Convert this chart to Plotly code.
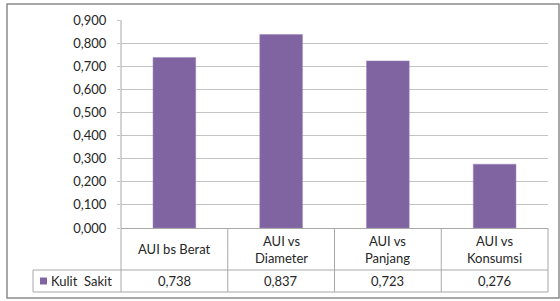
import plotly.graph_objects as go

categories = ["AUI bs Berat", "AUI vs<br>Diameter", "AUI vs<br>Panjang", "AUI vs<br>Konsumsi"]
values = [0.738, 0.837, 0.723, 0.276]
series_name = "Kulit  Sakit"
tick_vals = [0.0, 0.1, 0.2, 0.3, 0.4, 0.5, 0.6, 0.7, 0.8, 0.9]

W, H = 560, 301
L, R, T, B = 121, 548, 20, 228  # plot area in px

def px(x):
    return (x - L) / (R - L)

def py(y):
    return (B - y) / (B - T)

BAR = "#8064A2"
GRID = "#C4C4C4"
TLINE = "#A8A8A8"
TXT = "#262626"
FONT = "Lato"
FS = 13

n = len(categories)
fig = go.Figure()
fig.add_trace(go.Bar(
    x=list(range(n)), y=values, width=0.4,
    marker=dict(color=BAR, line=dict(color="#9A84B8", width=0.5)),
    name=series_name, showlegend=False, hoverinfo="skip",
))

shapes = []
# outer chart border
shapes.append(dict(type="rect", xref="paper", yref="paper",
                   x0=px(7), x1=px(559), y0=py(4), y1=py(298),
                   line=dict(color="#8A8A8A", width=1.5), layer="above"))
# table lines
row1, row2, row3 = 228, 270, 292
col_w = (R - L) / n
cols = [L + col_w * k for k in range(n + 1)]
shapes.append(dict(type="line", xref="paper", yref="paper", x0=px(33), x1=px(R), y0=py(row2), y1=py(row2), line=dict(color=TLINE, width=1)))
shapes.append(dict(type="line", xref="paper", yref="paper", x0=px(33), x1=px(R), y0=py(row3), y1=py(row3), line=dict(color=TLINE, width=1)))
shapes.append(dict(type="line", xref="paper", yref="paper", x0=px(33), x1=px(33), y0=py(row2), y1=py(row3), line=dict(color=TLINE, width=1)))
shapes.append(dict(type="line", xref="paper", yref="paper", x0=px(L), x1=px(L), y0=py(T), y1=py(row3), line=dict(color=TLINE, width=1)))
for c in cols[1:]:
    shapes.append(dict(type="line", xref="paper", yref="paper", x0=px(c), x1=px(c), y0=py(row1), y1=py(row3), line=dict(color=TLINE, width=1)))
# legend key square
shapes.append(dict(type="rect", xref="paper", yref="paper", x0=px(40), x1=px(47), y0=py(277.5), y1=py(284.5),
                   line=dict(width=0), fillcolor=BAR))

annotations = []
for i, (cat, v) in enumerate(zip(categories, values)):
    cx = (cols[i] + cols[i + 1]) / 2
    annotations.append(dict(xref="paper", yref="paper", x=px(cx), y=py((row1 + row2) / 2),
                            text=cat, showarrow=False, xanchor="center", yanchor="middle",
                            font=dict(family=FONT, size=FS, color=TXT)))
    annotations.append(dict(xref="paper", yref="paper", x=px(cx), y=py((row2 + row3) / 2),
                            text=f"{v:.3f}".replace(".", ","), showarrow=False,
                            xanchor="center", yanchor="middle",
                            font=dict(family=FONT, size=FS, color=TXT)))
annotations.append(dict(xref="paper", yref="paper", x=px(49), y=py((row2 + row3) / 2),
                        text=series_name, showarrow=False, xanchor="left", yanchor="middle",
                        font=dict(family=FONT, size=FS, color=TXT)))

fig.update_layout(
    width=W, height=H,
    margin=dict(l=L, r=W - R, t=T, b=H - B),
    paper_bgcolor="white", plot_bgcolor="white",
    separators=",.",
    showlegend=False,
    font=dict(family=FONT, size=FS, color=TXT),
    xaxis=dict(range=[-0.5, n - 0.5], showticklabels=False, showgrid=False,
               zeroline=False, showline=True, linecolor=TLINE, linewidth=1, ticks=""),
    yaxis=dict(range=[0, 0.9], tickvals=tick_vals, tickformat=".3f",
               showgrid=True, gridcolor=GRID, gridwidth=1, zeroline=False,
               showline=False, ticks="outside", ticklen=3, tickcolor=GRID,
               ticklabelstandoff=8, tickfont=dict(family=FONT, size=FS, color=TXT)),
    shapes=shapes, annotations=annotations,
)

fig.write_html("out.html", config={"displayModeBar": False},
               post_script="document.body.style.margin='0';document.body.style.overflow='hidden';")
